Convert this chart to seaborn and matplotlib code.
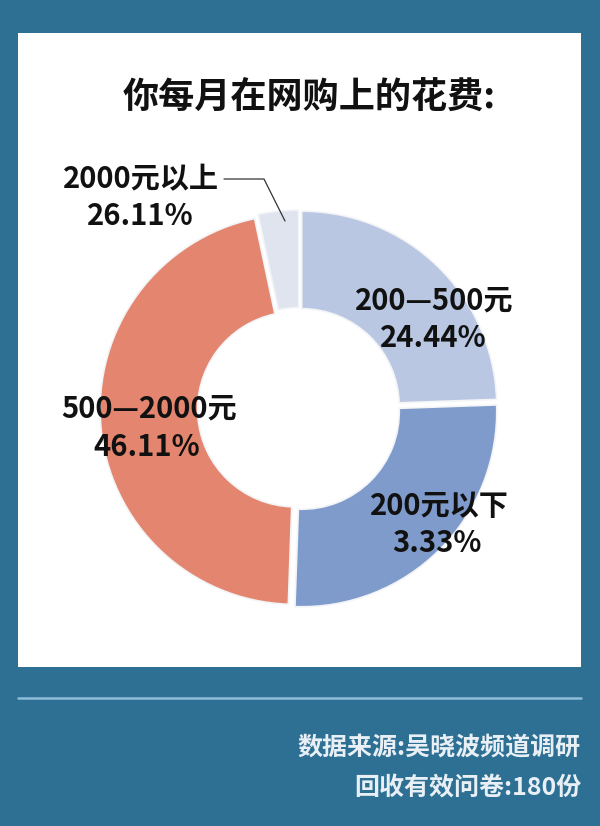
import seaborn as sns
import matplotlib.pyplot as plt
from matplotlib.patches import Rectangle
from matplotlib.lines import Line2D

# 数据
title = '你每月在网购上的花费:'
values = [24.44, 26.11, 46.11, 3.33]   # 按顺时针从12点开始
names = ['200—500元', '200元以下', '500—2000元', '2000元以上']
pct_text = ['24.44%', '3.33%', '46.11%', '26.11%']
colors = ['#b9c7e2', '#7f9bcb', '#e4866f', '#dfe4ef']
footer = ['数据来源:吴晓波频道调研', '回收有效问卷:180份']

sns.set_theme(style='white')
plt.rcParams['font.family'] = ['Noto Sans CJK SC', 'DejaVu Sans']

W, H = 600, 826
bg = '#2e7094'
fig = plt.figure(figsize=(W / 100, H / 100), dpi=100, facecolor=bg)

# 底层: 白色面板 + 分隔线
base = fig.add_axes([0, 0, 1, 1], zorder=-1)
base.set_xlim(0, W)
base.set_ylim(H, 0)
base.axis('off')
base.add_patch(Rectangle((18, 33), 563, 634, facecolor='white', edgecolor='none'))
base.plot([18, 581], [698, 698], color='#8fbcd8', lw=1.8)

# 环形图, 半径1 = 195px
cx, cy, R = 299, 409, 195
half = 1.25 * R
ax = fig.add_axes([(cx - half) / W, (H - cy - half) / H, 2 * half / W, 2 * half / H])
ax.pie(values, colors=colors, startangle=90, counterclock=False,
       explode=[0.02] * len(values), radius=1,
       wedgeprops=dict(width=0.5, edgecolor='#f3f4f7', linewidth=1.2))
ax.set_xlim(-1.25, 1.25)
ax.set_ylim(-1.25, 1.25)
ax.set_aspect('equal')
ax.axis('off')


def put(x, y, s, **kw):
    fig.text(x / W, 1 - y / H, s, **kw)


# 标题
put(309, 97, title, ha='center', va='center', fontsize=26, fontweight='bold', color='#111111')

# 标签 (位置按图读取)
lab_pos = [(434, 300, 433, 338), (439, 506, 437, 543), (149, 408, 147, 447), (141, 179, 140, 216)]
for n, p, (x1, y1, x2, y2) in zip(names, pct_text, lab_pos):
    put(x1, y1, n, ha='center', va='center', fontsize=21, fontweight='semibold', color='#111111')
    put(x2, y2, p, ha='center', va='center', fontsize=21, fontweight='semibold', color='#111111')

# 引导线
fig.add_artist(Line2D([224 / W, 264 / W, 285 / W], [1 - 179 / H, 1 - 179 / H, 1 - 221 / H],
                      transform=fig.transFigure, color='#333333', lw=0.9))

# 底部来源
put(581, 748, footer[0], ha='right', va='center', fontsize=18, fontweight='bold', color='#e8eff5')
put(581, 788, footer[1], ha='right', va='center', fontsize=18, fontweight='bold', color='#e8eff5')

fig.savefig('out.png', dpi=100, facecolor=bg)
